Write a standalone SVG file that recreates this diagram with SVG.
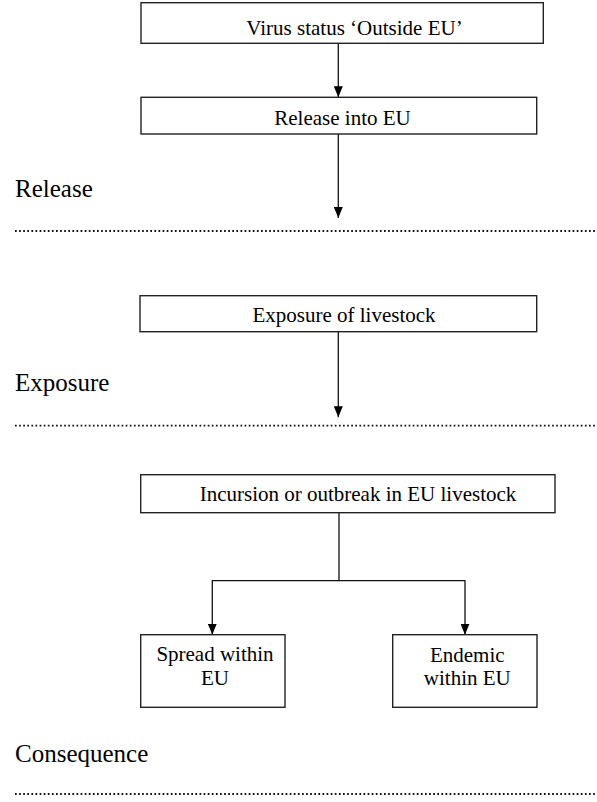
<svg xmlns="http://www.w3.org/2000/svg" width="597" height="802" viewBox="0 0 597 802">
<style>
  text { font-family: "Liberation Serif", "Times New Roman", serif; fill: #000; }
  .box rect { fill: #fff; stroke: #222; stroke-width: 1.4; }
  .box text { font-size: 21px; text-anchor: middle; }
  .label { font-size: 25px; }
  .conn path { fill: none; stroke: #111; stroke-width: 1.3; }
  .sep { stroke: #111; stroke-width: 1.8; stroke-dasharray: 1.7 2.4; fill: none; }
</style>
<defs>
  <marker id="arrow" viewBox="0 0 11 9" refX="11" refY="4.5" markerWidth="11" markerHeight="9" markerUnits="userSpaceOnUse" orient="auto">
    <path d="M0,0 L11,4.5 L0,9 z" fill="#000"/>
  </marker>
</defs>
<rect width="597" height="802" fill="#fff"/>

<g id="separators">
  <line class="sep" x1="15" y1="231" x2="597" y2="231"/>
  <line class="sep" x1="15" y1="425.7" x2="597" y2="425.7"/>
  <line class="sep" x1="15" y1="794" x2="597" y2="794"/>
</g>

<g id="labels">
  <text class="label" x="15" y="196.7">Release</text>
  <text class="label" x="15" y="390.7">Exposure</text>
  <text class="label" x="15" y="762">Consequence</text>
</g>

<g id="connectors" class="conn">
  <path d="M338.3,43.3 V97.3" marker-end="url(#arrow)"/>
  <path d="M338.3,134 V218" marker-end="url(#arrow)"/>
  <path d="M338.3,331.7 V417.3" marker-end="url(#arrow)"/>
  <path d="M339,512.7 V580.7 H212.3 V634.7" marker-end="url(#arrow)"/>
  <path d="M339,580.7 H465 V634.7" marker-end="url(#arrow)"/>
</g>

<g id="virus-status" class="box">
  <rect x="141" y="2.7" width="402.3" height="40.6"/>
  <text x="354.5" y="35">Virus status ‘Outside EU’</text>
</g>
<g id="release-into-eu" class="box">
  <rect x="141" y="97.3" width="395.7" height="36.7"/>
  <text x="342.5" y="125">Release into EU</text>
</g>
<g id="exposure-of-livestock" class="box">
  <rect x="140" y="295.7" width="396.7" height="36"/>
  <text x="344" y="321.7">Exposure of livestock</text>
</g>
<g id="incursion" class="box">
  <rect x="140.7" y="474.7" width="414.3" height="38"/>
  <text x="358" y="500.7">Incursion or outbreak in EU livestock</text>
</g>
<g id="spread-within-eu" class="box">
  <rect x="140.7" y="634.7" width="144.3" height="72.6"/>
  <text x="215" y="660.7">Spread within</text>
  <text x="215" y="685">EU</text>
</g>
<g id="endemic-within-eu" class="box">
  <rect x="392.7" y="634.7" width="144.3" height="72.6"/>
  <text x="467.3" y="661.7">Endemic</text>
  <text x="467.3" y="685">within EU</text>
</g>
</svg>
